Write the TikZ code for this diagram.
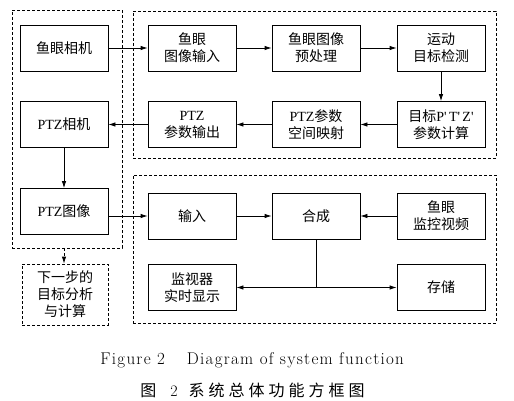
\documentclass[tikz,border=0pt]{standalone}
\usepackage{fontspec}
\usetikzlibrary{arrows.meta}
\newfontfamily\cjk{Noto Sans CJK SC}
\newfontfamily\cjkcap[LetterSpace=25]{Noto Sans CJK SC}
\newfontfamily\encap[LetterSpace=7.5]{Latin Modern Roman}
\newfontfamily\tnr{Liberation Serif}
\newcommand\lat[1]{{\tnr #1}}

\begin{document}
\begin{tikzpicture}[x=1pt, y=-1pt, line width=0.8pt,
  blk/.style={draw, minimum width=88pt, minimum height=46pt, inner sep=0pt, align=center,
    font=\fontsize{14}{17}\selectfont\cjk},
  grp/.style={draw, line width=0.9pt, dash pattern=on 3pt off 2pt, inner sep=0pt},
  arr/.style={-{Latex[length=7pt,width=4.5pt]}}]

  %% ════ 虚线分组框 ════
  \node[grp, minimum width=110pt, minimum height=238pt] (leftgrp) at (67,129) {};
  \node[grp, minimum width=363pt, minimum height=147pt] (topgrp) at (314.5,84.5) {};
  \node[grp, minimum width=363pt, minimum height=148pt] (botgrp) at (314.5,249) {};

  %% ════ 方框 ════
  \node[blk] (yjcam)   at (64,48)    {鱼眼相机};
  \node[blk] (yjin)    at (192,48)   {鱼眼\\图像输入};
  \node[blk] (pre)     at (316,48)   {鱼眼图像\\预处理};
  \node[blk] (detect)  at (441,48)   {运动\\目标检测};
  \node[blk] (ptzcam)  at (64,124.5) {\lat{PTZ}相机};
  \node[blk] (ptzout)  at (192,124.5) {\lat{PTZ}\\参数输出};
  \node[blk] (map)     at (316,124.5) {\lat{PTZ}参数\\空间映射};
  \node[blk] (calc)    at (441,124.5) {目标\lat{P'\,T'\,Z'}\\参数计算};
  \node[blk] (ptzimg)  at (64,211.5) {\lat{PTZ}图像};
  \node[blk] (in2)     at (192,216)  {输入};
  \node[blk] (merge)   at (316,216)  {合成};
  \node[blk] (yjvideo) at (441,216)  {鱼眼\\监控视频};
  \node[blk] (monitor) at (192,287.5) {监视器\\实时显示};
  \node[blk] (store)   at (441,287.5) {存储};
  \node[blk, dashed, dash pattern=on 3pt off 2pt, minimum width=86pt, minimum height=61pt]
    (next) at (65,294.5) {下一步的\\目标分析\\与计算};

  %% ════ 连线 ════
  \draw[arr] (yjcam) -- (yjin);
  \draw[arr] (yjin) -- (pre);
  \draw[arr] (pre) -- (detect);
  \draw[arr] (detect) -- (calc);
  \draw[arr] (calc) -- (map);
  \draw[arr] (map) -- (ptzout);
  \draw[arr] (ptzout) -- (ptzcam);
  \draw[arr] (ptzcam) -- (ptzimg);
  \draw[arr] (ptzimg.east |- in2) -- (in2);
  \draw[arr] (in2) -- (merge);
  \draw[arr] (yjvideo) -- (merge);
  \coordinate (jn) at (merge.south |- monitor);
  \draw (merge) -- (jn);
  \draw[arr] (jn) -- (monitor);
  \draw[arr] (jn) -- (store);
  \draw[arr, dash pattern=on 3pt off 2pt] (ptzimg |- leftgrp.south) -- (ptzimg |- next.north);

  %% ════ 图题 ════
  \node[anchor=west, inner sep=0pt, font=\fontsize{17}{20}\selectfont\encap]
    (capen) at (100,360) {Figure 2\hspace{22pt}Diagram of system function};
  \node[anchor=west, inner sep=0pt, font=\fontsize{16}{19}\selectfont]
    (capzh) at (140,390) {{\cjkcap 图}\hspace{14pt}2\hspace{11pt}{\cjkcap 系统总体功能方框图}};

  \pgfresetboundingbox
  \path[use as bounding box] (0,0) rectangle (514,401);
\end{tikzpicture}
\end{document}
